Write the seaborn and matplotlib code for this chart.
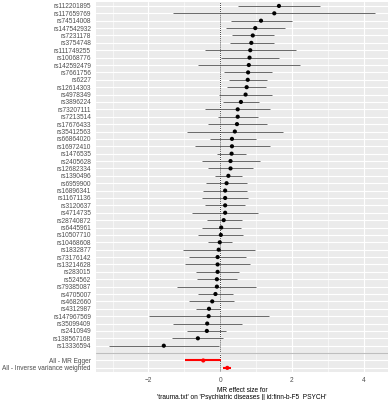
import numpy as np
import pandas as pd
import matplotlib
matplotlib.use("Agg")
import matplotlib.pyplot as plt
import seaborn as sns

snps = ["rs112201895", "rs117659769", "rs74514008", "rs147542932", "rs7231178",
        "rs3754748", "rs111749255", "rs10068776", "rs142592479", "rs7661756",
        "rs6227", "rs12614303", "rs4978349", "rs3896224", "rs73207111",
        "rs7213514", "rs17676433", "rs35412563", "rs66864020", "rs16972410",
        "rs1476535", "rs2405628", "rs12682334", "rs1390496", "rs6959900",
        "rs16896341", "rs11671136", "rs3120637", "rs4714735", "rs28740872",
        "rs6445961", "rs10507710", "rs10468608", "rs1832877", "rs73176142",
        "rs13214628", "rs283015", "rs524562", "rs79385087", "rs4705007",
        "rs4682660", "rs4312987", "rs147967569", "rs35099409", "rs2410949",
        "rs138567168", "rs13336594", "", "All - MR Egger",
        "All - Inverse variance weighted"]

b = [1.64, 1.51, 1.14, 0.98, 0.91, 0.87, 0.84, 0.82, 0.80, 0.78,
     0.77, 0.74, 0.71, 0.58, 0.49, 0.49, 0.47, 0.41, 0.33, 0.33,
     0.32, 0.29, 0.29, 0.23, 0.18, 0.14, 0.14, 0.14, 0.14, 0.10,
     0.03, 0.02, -0.01, -0.04, -0.07, -0.07, -0.07, -0.09, -0.09, -0.13,
     -0.22, -0.31, -0.32, -0.36, -0.37, -0.62, -1.57, np.nan, -0.47, 0.20]

lo = [0.51, -1.31, 0.30, 0.17, 0.33, 0.28, -0.41, 0.02, -0.63, 0.11,
      0.24, 0.20, -0.02, 0.07, -0.41, -0.06, -0.33, -0.92, -0.28, -0.70,
      -0.09, -0.50, -0.33, -0.13, -0.39, -0.48, -0.50, -0.41, -0.77, -0.37,
      -0.50, -0.62, -0.33, -1.03, -0.86, -0.97, -0.67, -0.64, -1.20, -0.61,
      -0.86, -0.68, -1.97, -1.31, -0.91, -1.33, -3.09, np.nan, -0.97, 0.09]

hi = [2.79, 4.31, 2.00, 1.81, 1.49, 1.49, 2.11, 1.63, 2.23, 1.45,
      1.30, 1.28, 1.45, 1.09, 1.40, 1.05, 1.30, 1.75, 0.99, 1.40,
      0.73, 1.10, 0.91, 0.60, 0.76, 0.74, 0.77, 0.70, 1.06, 0.60,
      0.59, 0.65, 0.33, 0.96, 0.72, 0.82, 0.53, 0.48, 1.00, 0.37,
      0.40, 0.00, 1.37, 0.60, 0.17, 0.09, -0.04, np.nan, 0.03, 0.30]

x_ticks = [-2, 0, 2, 4]
x_title = "MR effect size for\n'trauma.txt' on 'Psychiatric diseases || id:finn-b-F5_PSYCH'"

df = pd.DataFrame({"SNP": snps, "b": b, "lo": lo, "hi": hi})
df["pos"] = np.arange(len(df))
df["tot"] = ["All" if s.startswith("All") else "SNP" for s in snps]

sns.set_theme(style="darkgrid")
plt.rcParams["font.family"] = ["Liberation Sans", "DejaVu Sans"]

fig = plt.figure(figsize=(3.9, 4.0), dpi=100)
ax = fig.add_axes([96 / 390, 1 - 372.3 / 400, 292 / 390, 370.8 / 400])
ax.set_facecolor("#EBEBEB")

# grid
ax.set_axisbelow(True)
ax.grid(False)
for xv in [-3, -1, 1, 3]:
    ax.axvline(xv, color="white", lw=0.4, zorder=0)
for xv in x_ticks:
    ax.axvline(xv, color="white", lw=0.8, zorder=0)
for yv in df["pos"]:
    ax.axhline(yv, color="white", lw=0.8, zorder=0)

ax.axvline(0, color="black", lw=0.6, ls=(0, (1, 1.5)), zorder=1)

snp_df = df[df["tot"] == "SNP"]
all_df = df[df["tot"] == "All"]
ax.hlines(snp_df["pos"], snp_df["lo"], snp_df["hi"], color="#404040", lw=0.55, zorder=2)
ax.hlines(all_df["pos"], all_df["lo"], all_df["hi"], color="red", lw=1.5, zorder=2)

sns.scatterplot(data=df.dropna(), x="b", y="pos", hue="tot",
                palette={"SNP": "black", "All": "red"}, s=9, linewidth=0,
                legend=False, ax=ax, zorder=3)

blank = df.index[df["SNP"] == ""][0]
ax.axhline(blank, color="#BEBEBE", lw=0.8, zorder=1)

ax.set_xlim(-3.46, 4.68)
ax.set_ylim(len(df) - 0.4, -0.6)
ax.set_yticks(df["pos"])
ax.set_yticklabels(df["SNP"], fontsize=4.7, color="#4D4D4D")
ax.set_xticks(x_ticks)
ax.set_xticklabels([f"\u2212{abs(t)}" if t < 0 else str(t) for t in x_ticks],
                   fontsize=4.7, color="#4D4D4D")
ax.tick_params(axis="y", length=0, pad=3.6)
ax.tick_params(axis="x", length=2, width=0.5, color="#333333", pad=1.2)
for sp in ax.spines.values():
    sp.set_visible(False)

ax.set_ylabel("")
ax.set_xlabel(x_title, fontsize=4.7, color="black", linespacing=1.05, labelpad=2)

fig.savefig("out.png", dpi=100)
